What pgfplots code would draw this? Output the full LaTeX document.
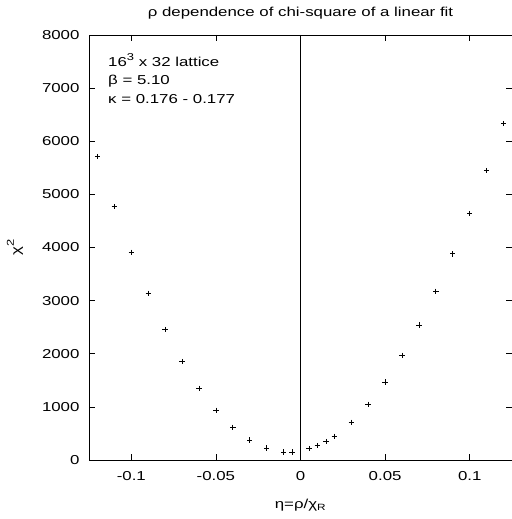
\documentclass[border=0pt]{standalone}
\usepackage{pgfplots}
\pgfplotsset{compat=1.18}
\usepackage{fontspec}
\setmainfont{Liberation Sans}[FakeStretch=1.3]
\begin{document}
\begin{tikzpicture}
\begin{axis}[
    scale only axis,
    width=423bp, height=425bp,
    xmin=-0.125, xmax=0.125,
    ymin=0, ymax=8000,
    xtick={-0.1,-0.05,0,0.05,0.1},
    xticklabels={-0.1,-0.05,0,0.05,0.1},
    ytick={0,1000,2000,3000,4000,5000,6000,7000,8000},
    yticklabels={0,1000,2000,3000,4000,5000,6000,7000,8000},
    tick align=inside,
    major tick length=6bp,
    tick style={black, line width=0.7pt},
    axis line style={line width=0.9pt},
    every tick label/.style={font=\fontsize{13}{15}\selectfont},
    xticklabel style={yshift=-8bp},
    yticklabel style={xshift=-6bp},
    clip=false,
]
% zero line
\draw[black, line width=0.7pt] (axis cs:0,0) -- (axis cs:0,8000);
\addplot[only marks, mark=+, mark size=2.7bp, black, line width=0.75pt] coordinates {
(-0.12,5712) (-0.11,4770) (-0.10,3911) (-0.09,3139) (-0.08,2454)
(-0.07,1851) (-0.06,1350) (-0.05,936) (-0.04,616) (-0.03,377)
(-0.02,226) (-0.01,151) (-0.005,151)
(0.005,213) (0.01,270) (0.015,345) (0.02,446) (0.03,710)
(0.04,1049) (0.05,1469) (0.06,1972) (0.07,2542) (0.08,3177)
(0.09,3880) (0.10,4638) (0.11,5448) (0.12,6333)
};
\coordinate (sw) at (rel axis cs:0,0);
\coordinate (ne) at (rel axis cs:1,1);
\end{axis}
% text block
\node[anchor=base west, font=\fontsize{13}{15}\selectfont, inner sep=0pt]
  at ([xshift=19bp,yshift=-31.5bp]sw |- ne) {16\raisebox{0.5em}{\fontsize{10}{10}\selectfont 3} x 32 lattice};
\node[anchor=base west, font=\fontsize{13}{15}\selectfont, inner sep=0pt]
  at ([xshift=19bp,yshift=-50bp]sw |- ne) {β = 5.10};
\node[anchor=base west, font=\fontsize{13}{15}\selectfont, inner sep=0pt]
  at ([xshift=19bp,yshift=-69bp]sw |- ne) {κ = 0.176 - 0.177};
% labels
\path (sw) -- (sw |- ne) coordinate[pos=0.5] (lm);
\path (sw) -- (sw -| ne) coordinate[pos=0.5] (bm);
\path (ne) -- (sw |- ne) coordinate[pos=0.5] (tm);
\node[font=\fontsize{13}{15}\selectfont, anchor=center]
  at ([yshift=22bp]tm) {ρ dependence of chi-square of a linear fit};
\node[font=\fontsize{13}{15}\selectfont, anchor=center]
  at ([yshift=-45bp]bm) {η=ρ/χ\textsubscript{R}};
\node[font=\fontsize{13}{15}\selectfont, anchor=center, rotate=90]
  at ([xshift=-74bp]lm) {χ\raisebox{0.5em}{\fontsize{10}{10}\selectfont 2}};
\pgfresetboundingbox
\path[use as bounding box] ([xshift=-89bp,yshift=-59bp]sw) rectangle ([xshift=-1bp,yshift=35bp]ne);
\end{tikzpicture}
\end{document}
